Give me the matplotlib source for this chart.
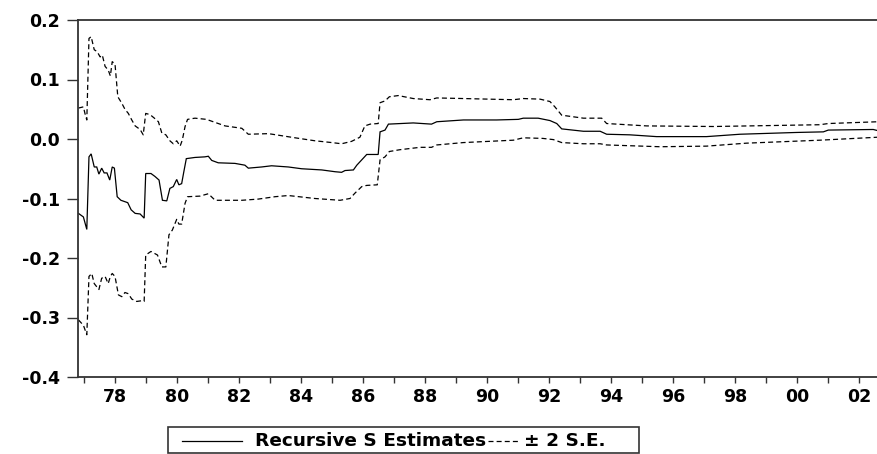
import matplotlib
matplotlib.use("Agg")
import matplotlib.pyplot as plt
from matplotlib.lines import Line2D
from matplotlib.patches import Rectangle

# ---- data ----
est_x = [1976.82, 1976.98, 1977.09, 1977.16, 1977.23, 1977.33, 1977.41, 1977.48, 1977.57, 1977.65,
         1977.74, 1977.83, 1977.91, 1977.98, 1978.07, 1978.19, 1978.30, 1978.41, 1978.52, 1978.65,
         1978.81, 1978.94, 1978.99, 1979.16, 1979.29, 1979.42, 1979.53, 1979.67, 1979.77, 1979.88,
         1979.99, 1980.06, 1980.15, 1980.22, 1980.30, 1980.58, 1980.90, 1981.01, 1981.12, 1981.33,
         1981.87, 1982.19, 1982.30, 1982.73, 1983.05, 1983.59, 1984.02, 1984.67, 1985.10, 1985.31,
         1985.42, 1985.69, 1985.80, 1985.96, 1986.12, 1986.49, 1986.55, 1986.71, 1986.82, 1987.62,
         1988.21, 1988.38, 1989.24, 1990.31, 1991.01, 1991.17, 1991.65, 1992.03, 1992.25, 1992.41,
         1993.11, 1993.65, 1993.86, 1994.61, 1995.47, 1997.08, 1998.16, 1999.99, 2000.85, 2001.01,
         2002.46, 2002.61]
est_y = [-0.125, -0.131, -0.152, -0.030, -0.025, -0.047, -0.047, -0.059, -0.049, -0.057,
         -0.057, -0.069, -0.047, -0.049, -0.097, -0.103, -0.105, -0.107, -0.119, -0.125,
         -0.126, -0.133, -0.058, -0.058, -0.063, -0.069, -0.103, -0.104, -0.083, -0.080,
         -0.068, -0.077, -0.075, -0.055, -0.033, -0.031, -0.030, -0.029, -0.036, -0.040,
         -0.041, -0.044, -0.049, -0.047, -0.045, -0.047, -0.050, -0.052, -0.055, -0.056,
         -0.053, -0.052, -0.044, -0.035, -0.026, -0.026, 0.012, 0.015, 0.025, 0.027,
         0.025, 0.029, 0.032, 0.032, 0.033, 0.035, 0.035, 0.031, 0.026, 0.017,
         0.013, 0.013, 0.008, 0.007, 0.004, 0.004, 0.008, 0.011, 0.012, 0.015,
         0.016, 0.014]

up_x = [1976.82, 1976.98, 1977.03, 1977.09, 1977.16, 1977.23, 1977.33, 1977.42, 1977.52, 1977.59,
        1977.68, 1977.78, 1977.85, 1977.91, 1978.00, 1978.09, 1978.22, 1978.32, 1978.43, 1978.54,
        1978.65, 1978.81, 1978.91, 1978.99, 1979.13, 1979.27, 1979.40, 1979.51, 1979.64, 1979.77,
        1979.88, 1979.99, 1980.10, 1980.17, 1980.26, 1980.34, 1980.58, 1980.95, 1981.55, 1982.09,
        1982.30, 1982.95, 1983.81, 1984.45, 1984.99, 1985.31, 1985.63, 1985.90, 1986.06, 1986.23,
        1986.49, 1986.55, 1986.71, 1986.85, 1987.14, 1987.62, 1988.16, 1988.38, 1989.24, 1990.85,
        1991.17, 1991.71, 1992.03, 1992.19, 1992.41, 1993.11, 1993.70, 1993.86, 1995.15, 1997.30,
        2000.74, 2001.01, 2002.61]
up_y = [0.052, 0.054, 0.043, 0.032, 0.169, 0.172, 0.150, 0.147, 0.138, 0.141,
        0.122, 0.116, 0.106, 0.130, 0.126, 0.071, 0.060, 0.050, 0.043, 0.032,
        0.022, 0.016, 0.007, 0.043, 0.041, 0.035, 0.029, 0.010, 0.007, -0.003,
        -0.008, -0.003, -0.012, -0.002, 0.021, 0.033, 0.035, 0.033, 0.022, 0.018,
        0.008, 0.009, 0.002, -0.003, -0.006, -0.008, -0.004, 0.003, 0.022, 0.025,
        0.026, 0.061, 0.064, 0.071, 0.073, 0.068, 0.066, 0.069, 0.068, 0.066,
        0.068, 0.067, 0.063, 0.054, 0.040, 0.035, 0.035, 0.026, 0.022, 0.021,
        0.024, 0.026, 0.029]

lo_x = [1976.82, 1976.98, 1977.09, 1977.16, 1977.25, 1977.33, 1977.48, 1977.57, 1977.68, 1977.78,
        1977.85, 1977.91, 1978.00, 1978.11, 1978.22, 1978.32, 1978.43, 1978.54, 1978.70, 1978.84,
        1978.94, 1978.99, 1979.16, 1979.37, 1979.51, 1979.64, 1979.74, 1979.85, 1979.99, 1980.06,
        1980.15, 1980.26, 1980.34, 1980.74, 1981.01, 1981.23, 1982.09, 1982.62, 1983.16, 1983.59,
        1984.45, 1985.26, 1985.58, 1985.74, 1985.96, 1986.12, 1986.46, 1986.55, 1986.71, 1986.85,
        1987.19, 1987.84, 1988.21, 1988.38, 1989.24, 1990.85, 1991.17, 1991.80, 1992.14, 1992.41,
        1993.11, 1993.65, 1993.86, 1995.58, 1997.08, 1998.37, 2000.74, 2002.61]
lo_y = [-0.304, -0.313, -0.329, -0.231, -0.226, -0.243, -0.253, -0.234, -0.231, -0.243,
        -0.231, -0.226, -0.231, -0.262, -0.265, -0.258, -0.260, -0.269, -0.273, -0.272,
        -0.273, -0.195, -0.189, -0.195, -0.215, -0.215, -0.161, -0.153, -0.135, -0.143,
        -0.143, -0.108, -0.097, -0.096, -0.092, -0.103, -0.103, -0.101, -0.097, -0.095,
        -0.100, -0.103, -0.100, -0.091, -0.080, -0.078, -0.077, -0.035, -0.030, -0.021,
        -0.018, -0.014, -0.014, -0.010, -0.006, -0.002, 0.002, 0.001, -0.001, -0.006,
        -0.008, -0.008, -0.010, -0.013, -0.012, -0.007, -0.002, 0.003]

x_years = list(range(1977, 2003))
x_labels = ["78", "80", "82", "84", "86", "88", "90", "92", "94", "96", "98", "00", "02"]
y_ticks = [-0.4, -0.3, -0.2, -0.1, 0.0, 0.1, 0.2]
y_labels = ["-0.4", "-0.3", "-0.2", "-0.1", "0.0", "0.1", "0.2"]
legend_labels = ["Recursive S Estimates", "\u00b1 2 S.E."]

# ---- figure ----
W, H = 878, 454
fig = plt.figure(figsize=(W / 100, H / 100), dpi=100)
plt.rcParams['font.family'] = ['DejaVu Sans']

def fx(px):
    return px / W

def fy(py):
    return 1 - py / H

ax = fig.add_axes([fx(78), fy(377), fx(878) - fx(78), fy(20) - fy(377)])

ax.plot(est_x, est_y, color="black", lw=0.9, solid_joinstyle="miter")
ax.plot(up_x, up_y, color="black", lw=0.9, dashes=(4, 2.5))
ax.plot(lo_x, lo_y, color="black", lw=0.9, dashes=(4, 2.5))

ax.set_xlim(1976.806, 2002.613)
ax.set_ylim(-0.4, 0.2)

ax.set_xticks(x_years)
lab_map = {int("19" + l) if l >= "50" else int("20" + l): l for l in x_labels}
ax.set_xticklabels([lab_map.get(y, "") for y in x_years])
ax.set_yticks(y_ticks)
ax.set_yticklabels(y_labels)

for lab in ax.get_xticklabels() + ax.get_yticklabels():
    lab.set_fontweight("bold")
    lab.set_fontsize(12.5)

ax.tick_params(axis="x", direction="out", length=4, width=1, pad=4, color="#333333")
ax.tick_params(axis="y", direction="out", length=8, width=1, pad=5, color="#333333")

for s in ["left", "bottom", "top"]:
    ax.spines[s].set_linewidth(1.3)
    ax.spines[s].set_color("#333333")
ax.spines["right"].set_visible(False)

# ---- legend box below the plot ----
box = Rectangle((fx(168), fy(453)), fx(639) - fx(168), fy(427) - fy(453),
                transform=fig.transFigure, fill=False, edgecolor="#333333", lw=1.2)
fig.add_artist(box)
ly = fy(441)
fig.add_artist(Line2D([fx(182), fx(242)], [ly, ly], transform=fig.transFigure,
                      color="black", lw=0.9))
fig.text(fx(255), ly, legend_labels[0], fontsize=13.3, fontweight="bold",
         va="center", ha="left")
fig.add_artist(Line2D([fx(488), fx(518)], [ly, ly], transform=fig.transFigure,
                      color="black", lw=0.9, dashes=(4, 2.5)))
fig.text(fx(524), ly, legend_labels[1], fontsize=13.3, fontweight="bold",
         va="center", ha="left")

fig.savefig("out.png", dpi=100)
